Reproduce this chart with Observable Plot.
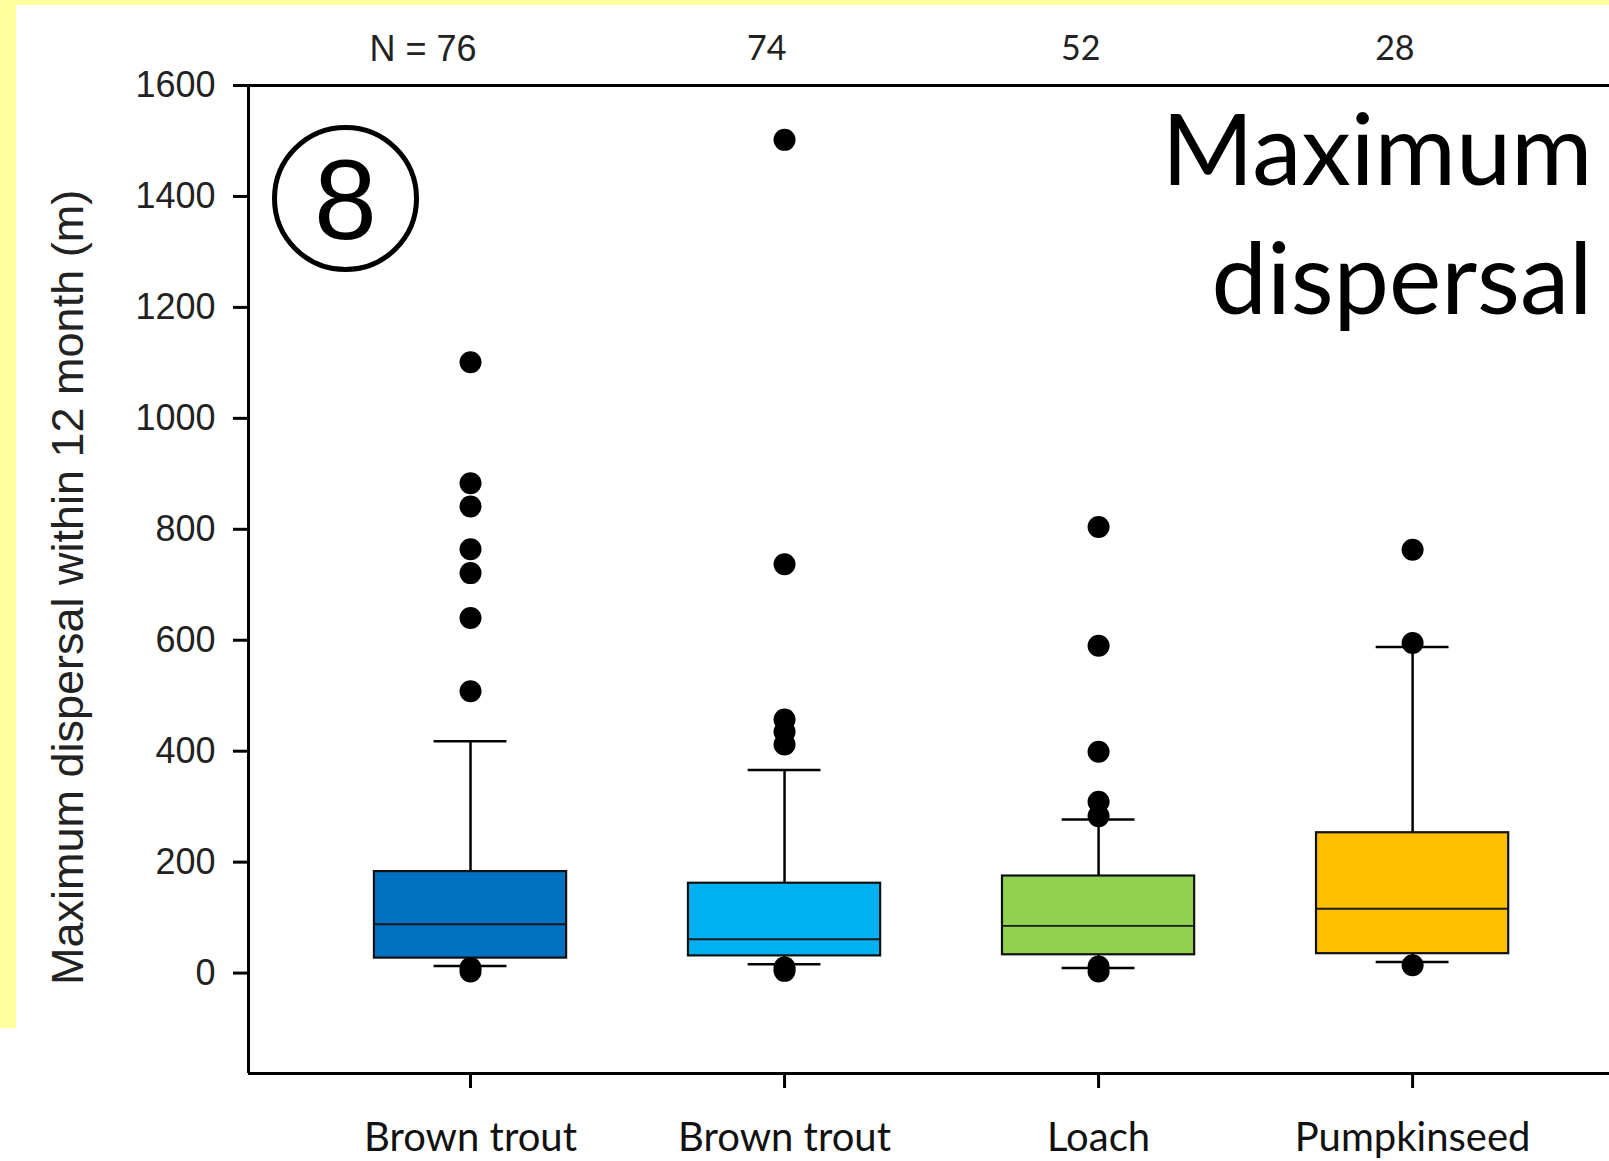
<!DOCTYPE html>
<html>
<head>
<meta charset="utf-8">
<script src="https://cdn.jsdelivr.net/npm/d3@7"></script>
<script src="https://cdn.jsdelivr.net/npm/@observablehq/plot@0.6"></script>
<style>
  html, body { margin: 0; padding: 0; background: #ffffff; overflow: hidden; }
  #wrap { position: relative; width: 1609px; height: 1161px; }
  .band { position: absolute; background: #FFFFA0; }
  #chart { position: absolute; left: 0; top: 0; }
</style>
</head>
<body>
<div id="wrap">
  <div class="band" style="left:0;top:0;width:1609px;height:5px;"></div>
  <div class="band" style="left:0;top:0;width:16px;height:1028px;"></div>
  <div id="chart"></div>
</div>
<script>
// ---- data ----
const species = ["Brown trout", "Brown trout", "Loach", "Pumpkinseed"];
const nLabels = ["N = 76", "74", "52", "28"];
const q1 = [27, 31, 33, 35];
const median = [88, 61, 85, 116];
const q3 = [183, 162, 175, 253];
const whiskerLow = [13, 16, 9, 20];
const whiskerHigh = [418, 366, 277, 588];
const outliers = [
  [1101, 883, 841, 764, 721, 640, 508, 3, 9],
  [1502, 737, 457, 435, 412, 4, 10],
  [804, 590, 399, 309, 283, 3, 12],
  [763, 595, 14]
];
const boxColors = ["#0070C0", "#00B0F0", "#92D050", "#FFC000"];
const yTicks = [0, 200, 400, 600, 800, 1000, 1200, 1400, 1600];
const yDomain = [-181, 1600];
const xDomain = [0.293, 4.627];

// ---- derived tables ----
const boxes = species.map((s, i) => ({
  pos: i + 1, name: s, n: nLabels[i],
  q1: q1[i], med: median[i], q3: q3[i],
  lo: whiskerLow[i], hi: whiskerHigh[i], color: boxColors[i]
}));
const points = outliers.flatMap((arr, i) => arr.map(v => ({pos: i + 1, v})));

const BOX = 0.306, CAP = 0.116;
const calibri = "Lato, Carlito, Calibri, 'Open Sans', sans-serif";
const arial = "'Liberation Sans', Arial, Helvetica, sans-serif";

const chart = Plot.plot({
  width: 1609,
  height: 1161,
  marginLeft: 248,
  marginTop: 85,
  marginBottom: 88,
  marginRight: 0,
  style: {background: "transparent", fontFamily: arial, overflow: "visible"},
  x: {domain: xDomain},
  y: {domain: yDomain},
  marks: [
    // whiskers
    Plot.ruleX(boxes, {x: "pos", y1: "q3", y2: "hi", stroke: "black", strokeWidth: 2.5}),
    Plot.ruleX(boxes, {x: "pos", y1: "q1", y2: "lo", stroke: "black", strokeWidth: 2.5}),
    Plot.ruleY(boxes, {y: "hi", x1: d => d.pos - CAP, x2: d => d.pos + CAP, stroke: "black", strokeWidth: 2.5}),
    Plot.ruleY(boxes, {y: "lo", x1: d => d.pos - CAP, x2: d => d.pos + CAP, stroke: "black", strokeWidth: 2.5}),
    // boxes
    Plot.rect(boxes, {x1: d => d.pos - BOX, x2: d => d.pos + BOX, y1: "q1", y2: "q3",
      fill: "color", stroke: "#111", strokeWidth: 2.2}),
    Plot.ruleY(boxes, {y: "med", x1: d => d.pos - BOX, x2: d => d.pos + BOX, stroke: "#1a1a1a", strokeWidth: 1.8}),
    // outliers
    Plot.dot(points, {x: "pos", y: "v", r: 11, fill: "black", stroke: "none"}),
    // frame lines
    Plot.ruleY([yDomain[1]], {stroke: "black", strokeWidth: 3}),
    Plot.ruleY([yDomain[0]], {stroke: "black", strokeWidth: 3}),
    Plot.ruleX([xDomain[0]], {stroke: "black", strokeWidth: 3}),
    // axes
    Plot.axisY({ticks: yTicks, tickFormat: d => String(d), tickSize: 15, tickPadding: 18, strokeWidth: 3,
      fontSize: 36, fontFamily: arial, fill: "#222", label: null}),
    Plot.axisX({ticks: [1, 2, 3, 4], tickFormat: i => species[i - 1], tickSize: 15, tickPadding: 34,
      strokeWidth: 3, fontSize: 40, fontFamily: calibri, fill: "#111", label: null}),
    // N labels
    Plot.text(boxes.filter(d => d.pos === 1), {x: "pos", text: "n", frameAnchor: "top", dy: -36, dx: 6,
      textAnchor: "end", lineAnchor: "middle", fontSize: 36, fontFamily: arial, fill: "#222"}),
    Plot.text(boxes.filter(d => d.pos !== 1), {x: "pos", text: "n", frameAnchor: "top", dy: -36, dx: 2,
      textAnchor: "end", lineAnchor: "middle", fontSize: 34, fontFamily: calibri, fill: "#222"}),
    // y axis title
    Plot.text(["Maximum dispersal within 12 month (m)"], {frameAnchor: "left", dx: -180, dy: 8, rotate: -90,
      text: d => d, textAnchor: "middle", lineAnchor: "middle", fontSize: 45, fontFamily: arial, fill: "#222"}),
    // big title
    Plot.text(["Maximum"], {frameAnchor: "top-right", dx: -17, dy: 68, text: d => d, textAnchor: "end",
      lineAnchor: "middle", fontSize: 99, fontFamily: calibri, fill: "black"}),
    Plot.text(["dispersal"], {frameAnchor: "top-right", dx: -17, dy: 197, text: d => d, textAnchor: "end",
      lineAnchor: "middle", fontSize: 99, fontFamily: calibri, fill: "black"}),
    // circled 8
    Plot.dot([0], {frameAnchor: "top-left", dx: 97, dy: 113, r: 71, fill: "none", stroke: "black", strokeWidth: 5}),
    Plot.text(["8"], {frameAnchor: "top-left", dx: 97, dy: 117, text: d => d, textAnchor: "middle",
      lineAnchor: "middle", fontSize: 113, fontFamily: arial, fill: "black"})
  ]
});
document.getElementById("chart").appendChild(chart);
</script>
</body>
</html>
